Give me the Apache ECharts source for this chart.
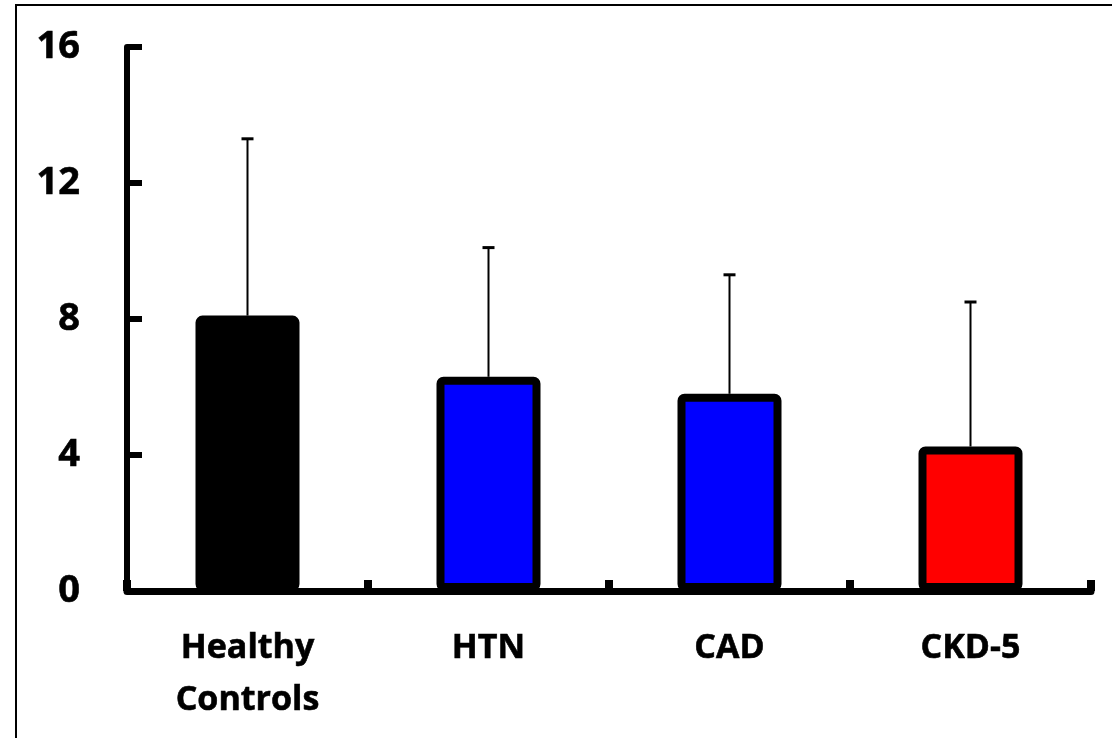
<!DOCTYPE html>
<html>
<head>
<meta charset="utf-8">
<title>Group means with SD</title>
<script src="https://cdn.jsdelivr.net/npm/echarts@6/dist/echarts.min.js"></script>
<style>
  html, body { margin: 0; padding: 0; background: #ffffff; }
  #chart { width: 1112px; height: 738px; }
</style>
</head>
<body>
<div id="chart"></div>
<script>
// Groups and their summary values
const categories = ['Healthy\nControls', 'HTN', 'CAD', 'CKD-5'];
const means = [8.1, 6.3, 5.8, 4.25];
const sds = [5.2, 3.8, 3.5, 4.25];
const yTicks = { min: 0, max: 16, step: 4 };

// Fill colour per group
const barColors = ['#000000', '#0000ff', '#0000ff', '#ff0000'];

const FONT = '"Open Sans", "Liberation Sans", sans-serif';

const chart = echarts.init(document.getElementById('chart'), null, { renderer: 'canvas' });

chart.setOption({
  animation: false,
  backgroundColor: '#ffffff',
  graphic: [{
    type: 'rect',
    shape: { x: 16, y: 5, width: 1200, height: 800 },
    style: { fill: 'none', stroke: '#000000', lineWidth: 2 },
    silent: true,
    z: 100
  }],
  grid: { left: 127, right: 21, top: 47, bottom: 147, containLabel: false },
  xAxis: {
    type: 'category',
    data: categories,
    boundaryGap: true,
    axisLine: { show: true, lineStyle: { color: '#000000', width: 7 } },
    axisTick: { show: true, inside: true, length: 11, alignWithLabel: false,
      lineStyle: { color: '#000000', width: 8 } },
    axisLabel: {
      interval: 0, margin: 31,
      color: '#000000', fontFamily: FONT, fontWeight: 'bold', fontSize: 34,
      lineHeight: 52, textBorderColor: '#000000', textBorderWidth: 0.6
    },
    splitLine: { show: false }
  },
  yAxis: {
    type: 'value',
    min: yTicks.min, max: yTicks.max, interval: yTicks.step,
    axisLine: { show: true, lineStyle: { color: '#000000', width: 6 } },
    axisTick: { show: true, inside: true, length: 15,
      lineStyle: { color: '#000000', width: 6 } },
    axisLabel: {
      margin: 47, color: '#000000', fontFamily: FONT, fontWeight: 'bold', fontSize: 38,
      textBorderColor: '#000000', textBorderWidth: 0.6
    },
    splitLine: { show: false }
  },
  series: [
    {
      type: 'bar',
      barWidth: 104,
      data: means.map((v, i) => ({ value: v, itemStyle: { color: barColors[i] } })),
      itemStyle: { borderColor: '#000000', borderWidth: 8, borderRadius: 3, borderJoin: 'round' },
      z: 2
    },
    {
      // upward SD whiskers with a short cap
      type: 'custom',
      data: means.map((m, i) => [i, m, m + sds[i]]),
      renderItem: function (params, api) {
        const idx = api.value(0);
        const lo = api.coord([idx, api.value(1)]);
        const hi = api.coord([idx, api.value(2)]);
        return {
          type: 'group',
          children: [
            { type: 'line', shape: { x1: lo[0], y1: lo[1], x2: hi[0], y2: hi[1] },
              style: { stroke: '#000000', lineWidth: 2 } },
            { type: 'line', shape: { x1: hi[0] - 6, y1: hi[1], x2: hi[0] + 6, y2: hi[1] },
              style: { stroke: '#000000', lineWidth: 3 } }
          ]
        };
      },
      z: 3
    }
  ]
});
</script>
</body>
</html>
